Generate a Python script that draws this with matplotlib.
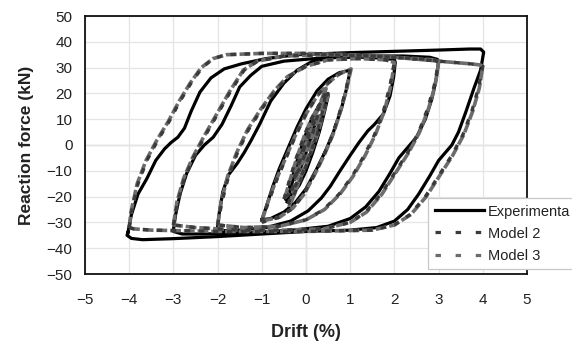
import matplotlib
matplotlib.use("Agg")
import matplotlib.pyplot as plt
from matplotlib.lines import Line2D

# ---- Experimental hysteresis loops (drift %, force kN) ----
exp_a025_x = [-0.25, -0.15, 0.0, 0.12, 0.25, 0.15, 0.0, -0.12, -0.25]
exp_a025_y = [-13, -7, 0, 6, 11, 4, -3, -9, -13]

exp_a05_x = [-0.45, -0.35, -0.2, -0.05, 0.1, 0.25, 0.4, 0.5, 0.42, 0.3, 0.15, 0.0, -0.15, -0.3, -0.45]
exp_a05_y = [-21, -15, -6, 2, 9, 14, 17.5, 19, 13, 5, -3, -10, -15.5, -19, -21]

exp_a05b_x = [-0.42, -0.3, -0.15, 0.0, 0.15, 0.3, 0.47, 0.38, 0.24, 0.1, -0.05, -0.22, -0.42]
exp_a05b_y = [-22, -14, -5, 3, 9.5, 15, 20, 12, 3, -4, -11, -17, -22]

exp_a1_x = [-1.0, -0.9, -0.75, -0.6, -0.4, -0.2, 0.0, 0.25, 0.5, 0.75, 1.0,
            0.92, 0.8, 0.62, 0.45, 0.25, 0.0, -0.25, -0.5, -0.8, -1.0]
exp_a1_y = [-29, -24, -16, -9, -1, 7, 14, 21, 25.5, 28, 29,
            22, 14, 5, -2, -9, -17, -22.5, -26, -28.5, -29]

exp_a2_x = [-2.0, -1.96, -1.88, -1.75, -1.55, -1.4, -1.25, -1.05, -0.8, -0.5, -0.2, 0.15, 0.7, 1.4, 1.85, 2.0, 2.02,
            1.98, 1.9, 1.75, 1.55, 1.4, 1.2, 1.0, 0.77, 0.55, 0.35, 0.05, -0.35, -0.9, -1.5, -1.9, -2.0]
exp_a2_y = [-32, -26, -18, -11.5, -7, -3, 1.5, 8, 17, 24, 29, 32.5, 34, 34, 33.5, 33, 32,
            26, 19, 12, 8, 5.5, 1, -4, -10, -16, -20.5, -25.5, -29.5, -32, -33, -33.2, -32]

exp_a3_x = [-3.0, -2.95, -2.85, -2.7, -2.5, -2.3, -2.1, -1.9, -1.7, -1.5, -1.25, -1.0, -0.5, 0.2, 1.2, 2.2, 2.8, 2.97, 3.0,
            2.95, 2.85, 2.7, 2.5, 2.3, 2.1, 1.9, 1.65, 1.35, 1.0, 0.5, -0.3, -1.3, -2.3, -2.8, -3.0, -3.0]
exp_a3_y = [-33, -27, -19, -11, -4, 0, 3, 8, 15, 22.5, 27, 30.5, 32.5, 33.5, 34.5, 34.5, 34, 33.2, 32.5,
            26, 18, 10, 3, -1, -5, -11, -18, -24, -28.5, -31.5, -33, -34, -34.5, -34.5, -33.5, -33]

exp_a4_x = [-4.03, -3.95, -3.8, -3.6, -3.4, -3.2, -3.05, -2.9, -2.75, -2.6, -2.4, -2.15, -1.85, -1.45, -0.9, -0.2,
            1.0, 2.0, 3.0, 3.7, 3.95, 4.02,
            3.95, 3.8, 3.62, 3.45, 3.3, 3.15, 3.0, 2.8, 2.55, 2.3, 2.0, 1.6, 1.0, 0.0, -1.0, -2.0, -3.0, -3.7,
            -3.95, -4.05, -4.03]
exp_a4_y = [-34, -27, -19, -13, -6, -1.5, 1, 3, 6.5, 13, 20.5, 26, 29.5, 31.5, 33.5, 35,
            35.8, 36.3, 36.8, 37.2, 37.2, 36,
            29, 22, 13, 5, 0, -3, -6, -12, -19, -25, -29.5, -32, -33, -33.5, -34.5, -35.5, -36.3, -36.7,
            -36.2, -35, -34]

# ---- Model 2 loops ----
m2_a025_x = [-0.27, -0.16, 0.0, 0.13, 0.27, 0.16, 0.0, -0.13, -0.27]
m2_a025_y = [-13, -6.5, 0.5, 6.5, 12, 5, -2.5, -8.5, -13]

m2_a05_x = [-0.5, -0.38, -0.22, -0.05, 0.1, 0.3, 0.5, 0.4, 0.25, 0.1, -0.08, -0.28, -0.5]
m2_a05_y = [-21, -14, -5, 3, 9.5, 15.5, 20, 13, 4, -3, -11, -17, -21]

m2_a05b_x = [-0.4, -0.28, -0.12, 0.03, 0.18, 0.33, 0.46, 0.36, 0.2, 0.05, -0.1, -0.25, -0.4]
m2_a05b_y = [-23, -15, -5, 3.5, 10, 16, 21, 12, 2, -6, -13, -18.5, -23]

m2_a1_x = [-1.0, -0.85, -0.65, -0.45, -0.25, 0.0, 0.25, 0.5, 0.75, 1.0,
           0.9, 0.75, 0.6, 0.4, 0.2, -0.05, -0.3, -0.6, -1.0]
m2_a1_y = [-30, -22, -13, -5, 3, 12, 19, 24, 27.5, 29.5,
           21, 12, 4, -4, -11, -19, -24.5, -28, -30]

m2_a2_x = [-2.0, -1.9, -1.75, -1.55, -1.3, -1.0, -0.7, -0.4, 0.0, 0.5, 1.2, 1.8, 2.0,
           1.9, 1.75, 1.55, 1.32, 1.05, 0.75, 0.4, 0.0, -0.6, -1.4, -2.0]
m2_a2_y = [-31, -22, -12, -3, 6, 14, 21, 26.5, 30.5, 33, 33.5, 33, 32,
           23, 13, 4, -4, -12, -19, -25, -29, -31.5, -32, -31]

m2_a3_x = [-3.0, -2.9, -2.75, -2.55, -2.3, -2.0, -1.7, -1.4, -1.1, -0.5, 0.5, 1.5, 2.5, 2.9, 3.0,
           2.9, 2.75, 2.55, 2.3, 2.0, 1.7, 1.35, 1.0, 0.4, -0.5, -1.5, -2.5, -3.0]
m2_a3_y = [-31, -22, -13, -5, 3, 12, 21, 29, 32.5, 34.5, 35, 34.5, 33.5, 33, 32,
           23, 14, 5, -3, -11, -19, -26, -30, -32.5, -33, -33, -32, -31]

m2_a4_x = [-4.0, -3.95, -3.8, -3.6, -3.35, -3.1, -2.85, -2.6, -2.35, -2.1, -1.8, -1.0, 0.0, 1.0, 2.0, 3.0, 3.7, 3.95, 4.0,
           3.9, 3.75, 3.55, 3.3, 3.0, 2.7, 2.35, 2.0, 1.5, 0.0, -2.0, -3.5, -3.9, -4.0]
m2_a4_y = [-32, -26, -15, -6, 2, 9, 17, 24, 30, 33.5, 35, 35.5, 35.5, 35, 34, 32.5, 31.5, 31, 30.5,
           22, 13, 4, -4, -12, -20, -27, -31, -33, -33.5, -33.5, -33, -32.5, -32]

# ---- Model 3 loops ----
m3_a025_x = [-0.26, -0.15, 0.01, 0.14, 0.26, 0.15, 0.0, -0.12, -0.26]
m3_a025_y = [-12.5, -6, 1, 7, 12, 4.5, -3, -8.5, -12.5]

m3_a05_x = [-0.48, -0.36, -0.2, -0.04, 0.12, 0.3, 0.5, 0.41, 0.27, 0.12, -0.06, -0.27, -0.48]
m3_a05_y = [-20.5, -13.5, -4.5, 3.5, 10, 15.5, 19.5, 13.5, 4.5, -2.5, -10.5, -16.5, -20.5]

m3_a05b_x = [-0.38, -0.25, -0.1, 0.05, 0.2, 0.34, 0.45, 0.34, 0.18, 0.03, -0.12, -0.26, -0.38]
m3_a05b_y = [-24, -15, -5, 4, 11, 17, 22, 13, 3, -5, -12.5, -19, -24]

m3_a1_x = [-1.0, -0.86, -0.66, -0.46, -0.26, 0.0, 0.25, 0.5, 0.75, 1.02,
           0.91, 0.76, 0.61, 0.41, 0.21, -0.04, -0.3, -0.6, -1.0]
m3_a1_y = [-29.5, -22, -13, -5, 3, 12, 19, 24, 27.5, 29.5,
           21, 12, 4, -4, -11, -19, -24.5, -28, -29.5]

m3_a2_x = [-2.0, -1.92, -1.77, -1.57, -1.32, -1.02, -0.72, -0.42, 0.0, 0.5, 1.2, 1.8, 2.0,
           1.92, 1.77, 1.57, 1.34, 1.07, 0.77, 0.42, 0.0, -0.6, -1.4, -2.0]
m3_a2_y = [-31, -22, -12, -3, 6, 14, 21, 26.5, 30.5, 33, 33.5, 33, 32,
           23, 13, 4, -4, -12, -19, -25, -29, -31.5, -32, -31]

m3_a3_x = [-3.0, -2.92, -2.77, -2.57, -2.32, -2.02, -1.72, -1.42, -1.1, -0.5, 0.5, 1.5, 2.5, 2.9, 3.0,
           2.92, 2.77, 2.57, 2.32, 2.02, 1.72, 1.37, 1.0, 0.4, -0.5, -1.5, -2.5, -3.0]
m3_a3_y = [-31, -22, -13, -5, 3, 12, 21, 29, 32.5, 34.5, 35, 34.5, 33.5, 33, 32,
           23, 14, 5, -3, -11, -19, -26, -30, -32.5, -33, -33, -32, -31]

m3_a4_x = [-4.0, -3.96, -3.82, -3.62, -3.37, -3.12, -2.87, -2.62, -2.37, -2.1, -1.8, -1.0, 0.0, 1.0, 2.0, 3.0, 3.7, 3.95, 4.0,
           3.92, 3.77, 3.57, 3.32, 3.02, 2.72, 2.37, 2.0, 1.5, 0.0, -2.0, -3.5, -3.9, -4.0]
m3_a4_y = [-32, -26, -15, -6, 2, 9, 17, 24, 30, 33.5, 35, 35.5, 35.5, 35, 34, 32.5, 31.5, 31, 30.5,
           22, 13, 4, -4, -12, -20, -27, -31, -33, -33.5, -33.5, -33, -32.5, -32]

exp_loops = [(exp_a025_x, exp_a025_y), (exp_a05_x, exp_a05_y), (exp_a05b_x, exp_a05b_y),
             (exp_a1_x, exp_a1_y), (exp_a2_x, exp_a2_y), (exp_a3_x, exp_a3_y), (exp_a4_x, exp_a4_y)]
m2_loops = [(m2_a025_x, m2_a025_y), (m2_a05_x, m2_a05_y), (m2_a05b_x, m2_a05b_y),
            (m2_a1_x, m2_a1_y), (m2_a2_x, m2_a2_y), (m2_a3_x, m2_a3_y), (m2_a4_x, m2_a4_y)]
m3_loops = [(m3_a025_x, m3_a025_y), (m3_a05_x, m3_a05_y), (m3_a05b_x, m3_a05b_y),
            (m3_a1_x, m3_a1_y), (m3_a2_x, m3_a2_y), (m3_a3_x, m3_a3_y), (m3_a4_x, m3_a4_y)]

x_ticks = [-5, -4, -3, -2, -1, 0, 1, 2, 3, 4, 5]
y_ticks = [-50, -40, -30, -20, -10, 0, 10, 20, 30, 40, 50]
series_labels = ["Experimenta", "Model 2", "Model 3"]

plt.rcParams["font.family"] = ["Liberation Sans", "DejaVu Sans"]

fig = plt.figure(figsize=(5.72, 3.41), dpi=100)
ax = fig.add_axes([85 / 572, 1 - 274 / 341, 442 / 572, 258 / 341])

exp_color = "#000000"
m2_color = "#3a3a3a"
m3_color = "#6c6c6c"

for xs, ys in exp_loops:
    ax.plot(xs, ys, color=exp_color, lw=2.3, solid_joinstyle="round", zorder=3)
for xs, ys in m3_loops:
    ax.plot(xs, ys, color=m3_color, lw=2.6, dashes=(3.0, 0.8), zorder=4)
for xs, ys in m2_loops:
    ax.plot(xs, ys, color=m2_color, lw=2.4, dashes=(1.6, 2.6), zorder=5)

ax.set_xlim(-5, 5)
ax.set_ylim(-50, 50)
ax.set_xticks(x_ticks)
ax.set_yticks(y_ticks)
ax.tick_params(length=0, labelsize=11, colors="#222222")
ax.tick_params(axis="x", pad=14)
ax.tick_params(axis="y", pad=9)
ax.grid(True, color="#e4e4e4", lw=0.9, zorder=0)
ax.axhline(0, color="#cfcfcf", lw=1.0, zorder=1)
ax.axvline(0, color="#cfcfcf", lw=1.0, zorder=1)
for sp in ax.spines.values():
    sp.set_color("#111111")
    sp.set_linewidth(1.3)

ax.set_xlabel("Drift (%)", fontsize=13, fontweight="bold", color="#222222", labelpad=12)
ax.set_ylabel("Reaction force (kN)", fontsize=12.5, fontweight="bold", color="#222222", labelpad=9)

handles = [
    Line2D([], [], color=exp_color, lw=2.3),
    Line2D([], [], color=m2_color, lw=2.3, dashes=(1.7, 4.6)),
    Line2D([], [], color=m3_color, lw=2.3, dashes=(1.7, 4.6)),
]
leg = fig.legend(handles, series_labels, loc="upper left",
                 bbox_to_anchor=(428 / 572, 1 - 198 / 341), bbox_transform=fig.transFigure,
                 fontsize=10.5, frameon=True, fancybox=False, framealpha=1,
                 edgecolor="#c8c8c8", handlelength=3.4, handletextpad=0.25,
                 labelspacing=0.55, borderpad=0.45, borderaxespad=0)
leg.get_frame().set_linewidth(0.9)
for t in leg.get_texts():
    t.set_color("#222222")

fig.savefig("out.png", dpi=100)
